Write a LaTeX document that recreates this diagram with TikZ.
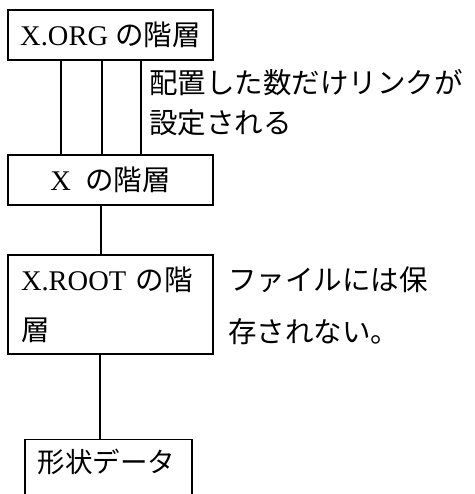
\documentclass[tikz,border=0pt]{standalone}
\usepackage{fontspec}
\setmainfont{Liberation Serif}
\newfontfamily\cjk{Noto Sans CJK JP}
\begin{document}
\begin{tikzpicture}[x=1pt,y=1pt,
  box/.style={draw,line width=1.3pt,inner sep=0pt,font=\fontsize{28.5}{32}\selectfont},
  link/.style={line width=1.3pt},
  note/.style={anchor=west,inner sep=0pt,font=\fontsize{28.5}{32}\selectfont\cjk}]
\useasboundingbox (0,0) rectangle (474,494);
\clip (0,0) rectangle (474,494);
\node[box,minimum width=205pt,minimum height=50pt] (b1) at (110.5,459) {X.ORG {\cjk の階層}};
\node[box,minimum width=205pt,minimum height=50pt] (b2) at (110.5,314) {X\ \ {\cjk の階層}};
\node[box,minimum width=205pt,minimum height=99pt,text width=179pt,align=left] (b3) at (110.5,189.5)
  {X.ROOT\ {\cjk の階}\\[18pt]{\cjk 層}};
\node[box,minimum width=167pt,minimum height=80pt,anchor=north] (b4) at (108.5,55) {};
\node[inner sep=0pt,font=\fontsize{27.5}{32}\selectfont\cjk] (t4) at (106.5,32) {形状データ};
\draw[link] ([xshift=-49.5pt]b1.south) -- ([xshift=-49.5pt]b2.north);
\draw[link] ([xshift=-8.5pt]b1.south) -- ([xshift=-8.5pt]b2.north);
\draw[link] ([xshift=30.5pt]b1.south) -- ([xshift=30.5pt]b2.north);
\draw[link] ([xshift=-9.5pt]b2.south) -- ([xshift=-9.5pt]b3.north);
\draw[link] ([xshift=-10.5pt]b3.south) -- ([xshift=-8.5pt]b4.north);
\node[note] (n1) at (149,411) {配置した数だけリンクが};
\node[note] (n2) at (149,371) {設定される};
\node[note] (n3) at (228,214) {ファイルには保};
\node[note] (n4) at (228,162) {存されない。};
\end{tikzpicture}
\end{document}
